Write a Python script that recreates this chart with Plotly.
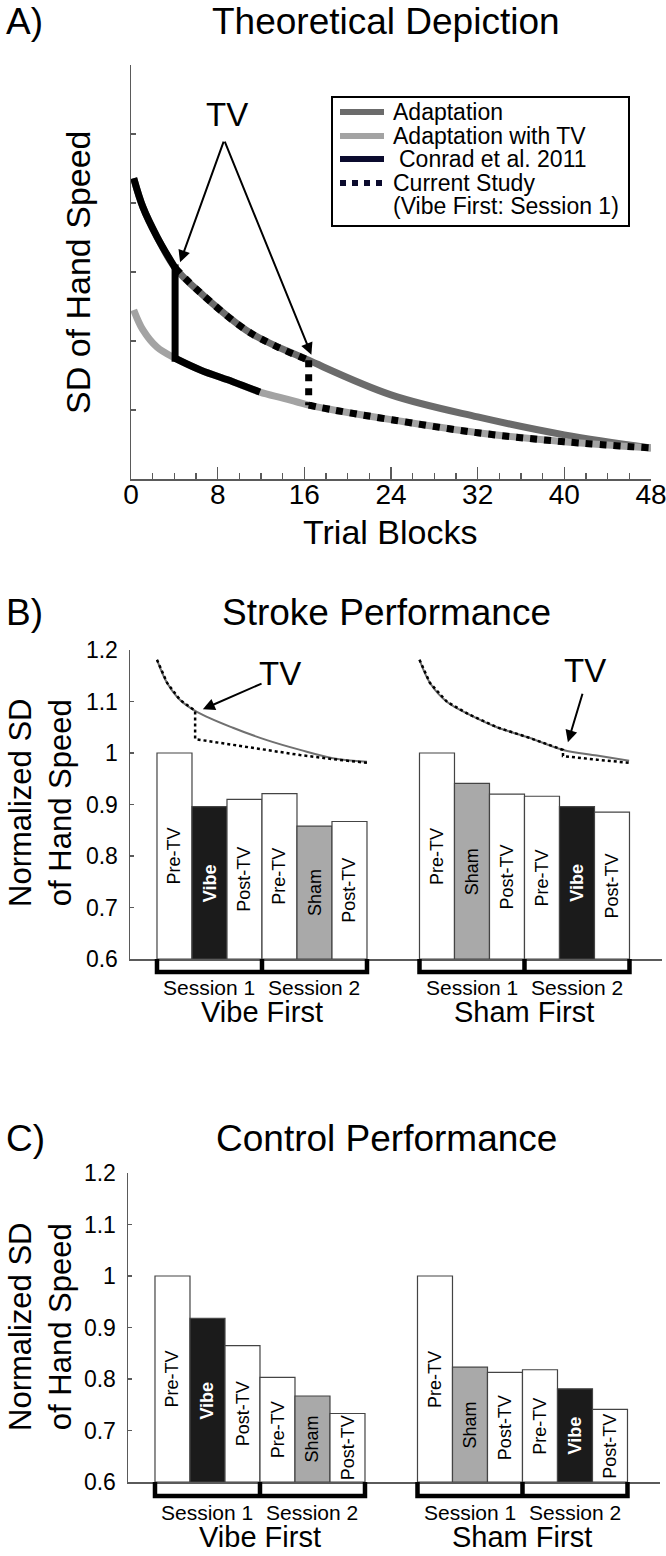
import plotly.graph_objects as go

W, H = 666, 1556
FONT = "Liberation Sans, Arial, sans-serif"

# ---------------- Panel A data (theoretical curves) ----------------
trial_block_ticks = [0, 8, 16, 24, 32, 40, 48]
trial_block_minor = [2, 4, 6, 10, 12, 14, 18, 20, 22, 26, 28, 30, 34, 36, 38, 42, 44, 46]
sd_ticks = [1, 2, 3, 4, 5]

adapt_x = [0.25, 1.1, 2.4, 4.07, 6.4, 11.0, 16.4, 24.0, 32.0, 40.0, 48.0]
adapt_y = [4.36, 3.94, 3.51, 3.06, 2.70, 2.12, 1.72, 1.22, 0.90, 0.64, 0.45]
adapt_tv_x = [0.25, 1.1, 2.4, 4.07, 6.4, 9.4, 11.9, 14.1, 16.4, 18.7, 24.0, 32.0, 40.0, 48.0]
adapt_tv_y = [2.45, 2.16, 1.91, 1.75, 1.58, 1.41, 1.26, 1.17, 1.07, 1.00, 0.86, 0.67, 0.54, 0.45]
conrad_tv_block = 4.07
conrad_end_block = 11.9
current_tv_block = 16.4

# ---------------- Panels B & C data ----------------
labels_vibe_first = ["Pre-TV", "Vibe", "Post-TV", "Pre-TV", "Sham", "Post-TV"]
labels_sham_first = ["Pre-TV", "Sham", "Post-TV", "Pre-TV", "Vibe", "Post-TV"]
stroke_vibe_first = [1.000, 0.896, 0.910, 0.921, 0.858, 0.867]
stroke_sham_first = [1.000, 0.941, 0.920, 0.916, 0.896, 0.885]
control_vibe_first = [1.000, 0.918, 0.865, 0.803, 0.767, 0.733]
control_sham_first = [1.000, 0.823, 0.813, 0.818, 0.781, 0.741]
norm_ticks = [0.6, 0.7, 0.8, 0.9, 1.0, 1.1, 1.2]
norm_tick_text = ["0.6", "0.7", "0.8", "0.9", "1", "1.1", "1.2"]
session_labels = ["Session 1", "Session 2"]
group_labels = ["Vibe First", "Sham First"]

# schematic curves drawn over panel B (x in bar units)
b_left_solid_x = [-0.5, -0.21, 0.16, 0.64, 1.67, 2.64, 3.59, 4.53, 5.5]
b_left_solid_y = [1.181, 1.136, 1.103, 1.080, 1.049, 1.025, 1.006, 0.990, 0.983]
b_left_dot_x = [-0.5, -0.21, 0.16, 0.59, 0.59, 1.67, 2.64, 3.59, 4.53, 5.5]
b_left_dot_y = [1.181, 1.136, 1.103, 1.082, 1.027, 1.016, 1.006, 0.996, 0.988, 0.981]
b_right_solid_x = [7.0, 7.3, 7.79, 8.44, 9.21, 10.16, 11.1, 12.07, 12.99]
b_right_solid_y = [1.181, 1.136, 1.099, 1.074, 1.050, 1.029, 1.006, 0.995, 0.985]
b_right_dot_x = [7.0, 7.3, 7.79, 8.44, 9.21, 10.16, 11.1, 11.1, 12.07, 12.99]
b_right_dot_y = [1.181, 1.136, 1.099, 1.074, 1.050, 1.029, 1.006, 0.994, 0.987, 0.981]

COLORS = {"Pre-TV": "white", "Post-TV": "white", "Vibe": "#1b1b1b", "Sham": "#a9a9a9"}
DARK = "#6b6b6b"
LIGHT = "#a3a3a3"
AXC = "#5a5a5a"


def pxx(x):
    return x / W


def pyy(y):
    return 1 - y / H


fig = go.Figure()

# ---------------- Panel A traces ----------------
fig.add_trace(go.Scatter(x=adapt_x, y=adapt_y, mode="lines", xaxis="x", yaxis="y",
                         line=dict(color=DARK, width=7, shape="spline", smoothing=1.0)))
fig.add_trace(go.Scatter(x=adapt_tv_x, y=adapt_tv_y, mode="lines", xaxis="x", yaxis="y",
                         line=dict(color=LIGHT, width=7, shape="spline", smoothing=1.0)))


def seg(xs, ys, lo, hi):
    pts = [(a, b) for a, b in zip(xs, ys) if lo <= a <= hi]
    return [p[0] for p in pts], [p[1] for p in pts]


def val_at(xs, ys, x0):
    return ys[xs.index(x0)]


# Conrad et al. 2011 (black solid)
cx1, cy1 = seg(adapt_x, adapt_y, 0, conrad_tv_block)
cx3, cy3 = seg(adapt_tv_x, adapt_tv_y, conrad_tv_block, conrad_end_block)
for xs, ys, shp in [(cx1, cy1, "spline"),
                    ([conrad_tv_block, conrad_tv_block],
                     [val_at(adapt_x, adapt_y, conrad_tv_block) + 0.05,
                      val_at(adapt_tv_x, adapt_tv_y, conrad_tv_block) - 0.05], "linear"),
                    (cx3, cy3, "spline")]:
    fig.add_trace(go.Scatter(x=xs, y=ys, mode="lines", xaxis="x", yaxis="y",
                             line=dict(color="black", width=7, shape=shp, smoothing=1.0)))

# Current study (black dotted)
dx1, dy1 = seg(adapt_x, adapt_y, conrad_tv_block, current_tv_block)
dx3, dy3 = seg(adapt_tv_x, adapt_tv_y, current_tv_block, 48)
for xs, ys, shp in [(dx1, dy1, "spline"),
                    ([current_tv_block, current_tv_block],
                     [val_at(adapt_x, adapt_y, current_tv_block),
                      val_at(adapt_tv_x, adapt_tv_y, current_tv_block)], "linear"),
                    (dx3, dy3, "spline")]:
    fig.add_trace(go.Scatter(x=xs, y=ys, mode="lines", xaxis="x", yaxis="y",
                             line=dict(color="black", width=7, dash="dot", shape=shp, smoothing=1.0)))

# ---------------- Panels B & C bars ----------------
annotations = []
shapes = []

GROUP_OFFSETS = [0.0, 7.5]


def add_bar_group(vals, labels, offset, xa, ya):
    xs = [offset + i for i in range(len(vals))]
    fig.add_trace(go.Bar(x=xs, y=[v - 0.6 for v in vals], base=0.6, width=1.0,
                         marker=dict(color=[COLORS[l] for l in labels],
                                     line=dict(color="#444444", width=1.2)),
                         xaxis=xa, yaxis=ya))
    for x, v, l in zip(xs, vals, labels):
        txt = "<b>Vibe</b>" if l == "Vibe" else l
        col = "white" if l == "Vibe" else "black"
        annotations.append(dict(x=x, y=(0.6 + v) / 2, xref=xa, yref=ya, text=txt, textangle=-90,
                                showarrow=False, font=dict(size=18, color=col, family=FONT),
                                xanchor="center", yanchor="middle"))


add_bar_group(stroke_vibe_first, labels_vibe_first, GROUP_OFFSETS[0], "x2", "y2")
add_bar_group(stroke_sham_first, labels_sham_first, GROUP_OFFSETS[1], "x2", "y2")
add_bar_group(control_vibe_first, labels_vibe_first, GROUP_OFFSETS[0], "x3", "y3")
add_bar_group(control_sham_first, labels_sham_first, GROUP_OFFSETS[1], "x3", "y3")

# schematic curves in B
fig.add_trace(go.Scatter(x=b_left_solid_x, y=b_left_solid_y, mode="lines", xaxis="x2", yaxis="y2",
                         line=dict(color="#707070", width=2, shape="spline", smoothing=1.0)))
fig.add_trace(go.Scatter(x=b_right_solid_x, y=b_right_solid_y, mode="lines", xaxis="x2", yaxis="y2",
                         line=dict(color="#707070", width=2, shape="spline", smoothing=1.0)))
for xs, ys in [(b_left_dot_x, b_left_dot_y), (b_right_dot_x, b_right_dot_y)]:
    fig.add_trace(go.Scatter(x=xs, y=ys, mode="lines", xaxis="x2", yaxis="y2",
                             line=dict(color="black", width=2.5, dash="dot")))


# ---------------- brackets, session & group labels ----------------
def add_brackets(xa, y_axis_px, y_line_px, y_sess_px, y_group_px):
    for g, off in enumerate(GROUP_OFFSETS):
        l, m, r = off - 0.5, off + 2.5, off + 5.5
        yt, yb = pyy(y_axis_px), pyy(y_line_px)
        path = (f"M {l},{yt} L {l},{yb} L {r},{yb} L {r},{yt} "
                f"M {m},{yt} L {m},{yb}")
        shapes.append(dict(type="path", path=path, xref=xa, yref="paper",
                           line=dict(color="black", width=4.5)))
        annotations.append(dict(x=off + 1, y=pyy(y_sess_px), xref=xa, yref="paper", text=session_labels[0],
                                showarrow=False, font=dict(size=21, family=FONT),
                                xanchor="center", yanchor="middle", borderpad=0))
        annotations.append(dict(x=off + 4, y=pyy(y_sess_px), xref=xa, yref="paper", text=session_labels[1],
                                showarrow=False, font=dict(size=21, family=FONT),
                                xanchor="center", yanchor="middle", borderpad=0))
        annotations.append(dict(x=off + 2.5, y=pyy(y_group_px), xref=xa, yref="paper", text=group_labels[g],
                                showarrow=False, font=dict(size=29, family=FONT),
                                xanchor="center", yanchor="middle", borderpad=0))


add_brackets("x2", 959, 972, 988, 1012)
add_brackets("x3", 1482, 1496, 1512, 1537)

# ---------------- text: panel letters, titles, axis titles ----------------
for letter, title, ycen in [("A)", "Theoretical Depiction", 22),
                            ("B)", "Stroke Performance", 612),
                            ("C)", "Control Performance", 1138)]:
    annotations.append(dict(x=pxx(4), y=pyy(ycen), xref="paper", yref="paper", text=letter,
                            showarrow=False, xanchor="left", yanchor="middle",
                            font=dict(size=37, family=FONT)))
    annotations.append(dict(x=pxx(386), y=pyy(ycen), xref="paper", yref="paper", text=title,
                            showarrow=False, xanchor="center", yanchor="middle",
                            font=dict(size=37, family=FONT)))

annotations.append(dict(x=pxx(78), y=pyy(272), xref="paper", yref="paper", text="SD of Hand Speed",
                        textangle=-90, showarrow=False, xanchor="center", yanchor="middle",
                        font=dict(size=34, family=FONT)))
annotations.append(dict(x=pxx(390), y=pyy(532), xref="paper", yref="paper", text="Trial Blocks",
                        showarrow=False, xanchor="center", yanchor="middle", font=dict(size=34, family=FONT)))
for ycen in [803, 1327]:
    annotations.append(dict(x=pxx(40), y=pyy(ycen), xref="paper", yref="paper",
                            text="Normalized SD<br>of Hand Speed", textangle=-90, showarrow=False,
                            xanchor="center", yanchor="middle", font=dict(size=31, family=FONT)))

# ---------------- TV arrows ----------------
annotations.append(dict(x=pxx(227), y=pyy(115), xref="paper", yref="paper", text="TV", showarrow=False,
                        xanchor="center", yanchor="middle", font=dict(size=33, family=FONT)))
for hx, hy in [(4.53, 3.14), (16.65, 1.80)]:
    annotations.append(dict(x=hx, y=hy, ax=8.6, ay=4.91, xref="x", yref="y", axref="x", ayref="y",
                            text="", showarrow=True, arrowhead=2, arrowsize=1.2, arrowwidth=2,
                            arrowcolor="black", standoff=0, startstandoff=0))

annotations.append(dict(x=pxx(280), y=pyy(673), xref="paper", yref="paper", text="TV", showarrow=False,
                        xanchor="center", yanchor="middle", font=dict(size=33, family=FONT)))
annotations.append(dict(x=0.81, y=1.085, ax=2.53, ay=1.136, xref="x2", yref="y2", axref="x2", ayref="y2",
                        text="", showarrow=True, arrowhead=2, arrowsize=1.2, arrowwidth=2,
                        arrowcolor="black", standoff=0))
annotations.append(dict(x=pxx(585), y=pyy(671), xref="paper", yref="paper", text="TV", showarrow=False,
                        xanchor="center", yanchor="middle", font=dict(size=33, family=FONT)))
annotations.append(dict(x=11.24, y=1.021, ax=11.67, ay=1.118, xref="x2", yref="y2", axref="x2", ayref="y2",
                        text="", showarrow=True, arrowhead=2, arrowsize=1.2, arrowwidth=2,
                        arrowcolor="black", standoff=0))

# ---------------- manual legend for panel A ----------------
shapes.append(dict(type="rect", xref="paper", yref="paper", x0=pxx(332), x1=pxx(629), y0=pyy(226), y1=pyy(97),
                   line=dict(color="black", width=2), fillcolor="white", layer="above"))
legend_rows = [("Adaptation", DARK, "solid", 112, 391),
               ("Adaptation with TV", LIGHT, "solid", 136, 391),
               ("Conrad et al. 2011", "#0b0b2e", "solid", 159, 397),
               ("Current Study", "#0b0b2e", "dot", 183, 391)]
for text, col, dash, yrow, xt in legend_rows:
    shapes.append(dict(type="line", xref="paper", yref="paper", x0=pxx(340), x1=pxx(384),
                       y0=pyy(yrow), y1=pyy(yrow), line=dict(color=col, width=6, dash=dash), layer="above"))
    annotations.append(dict(x=pxx(xt), y=pyy(yrow), xref="paper", yref="paper", text=text, showarrow=False,
                            xanchor="left", yanchor="middle", font=dict(size=23, family=FONT)))
annotations.append(dict(x=pxx(391), y=pyy(206), xref="paper", yref="paper", text="(Vibe First: Session 1)",
                        showarrow=False, xanchor="left", yanchor="middle", font=dict(size=23, family=FONT)))

# ---------------- axes ----------------
common_line = dict(showline=True, linecolor=AXC, linewidth=1.5, showgrid=False, zeroline=False,
                   automargin=False)
bar_x = dict(common_line, range=[-1.271, 13.929], ticks="", showticklabels=False, fixedrange=True)
norm_y = dict(common_line, range=[0.6, 1.2], tickvals=norm_ticks, ticktext=norm_tick_text, ticks="inside",
              ticklen=4, tickwidth=1.2, tickcolor=AXC, tickfont=dict(size=23, family=FONT, color="black"),
              ticklabelstandoff=6)

fig.update_layout(
    template="none",
    width=W, height=H, margin=dict(l=0, r=0, t=0, b=0, pad=0, autoexpand=False),
    paper_bgcolor="white", plot_bgcolor="white", showlegend=False,
    font=dict(family=FONT, color="black"),
    xaxis=dict(common_line, domain=[pxx(131), pxx(651)], range=[0, 48], anchor="y",
               tickvals=trial_block_ticks, ticks="inside", ticklen=12, tickwidth=1.5, tickcolor=AXC,
               tickfont=dict(size=28, family=FONT, color="black"), ticklabeloverflow="allow",
               ticklabelstandoff=-10,
               minor=dict(tickvals=trial_block_minor, ticks="inside", ticklen=6, tickwidth=1.2, tickcolor=AXC)),
    yaxis=dict(common_line, domain=[pyy(479), pyy(65)], range=[0, 6], anchor="x",
               tickvals=sd_ticks, ticks="inside", ticklen=5, tickwidth=1.2, tickcolor=AXC,
               showticklabels=False),
    xaxis2=dict(bar_x, domain=[pxx(130), pxx(662)], anchor="y2"),
    yaxis2=dict(norm_y, domain=[pyy(959), pyy(650)], anchor="x2"),
    xaxis3=dict(bar_x, domain=[pxx(128), pxx(660)], anchor="y3"),
    yaxis3=dict(norm_y, domain=[pyy(1482), pyy(1173)], anchor="x3"),
    annotations=annotations, shapes=shapes, bargap=0,
)

fig.write_html("out.html", config={"displayModeBar": False, "staticPlot": True},
               post_script="document.body.style.margin='0px';")
